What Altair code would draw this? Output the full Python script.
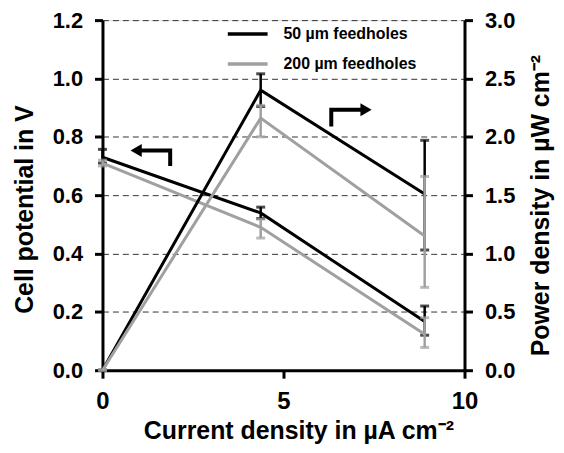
import altair as alt
import pandas as pd

# Data
current = [0, 4.37, 8.9]
series_names = ["50 µm feedholes", "200 µm feedholes"]
colors = ["#000000", "#a0a0a0"]

pot_50 = [0.73, 0.539, 0.167]
pot_50_lo = [0.71, 0.52, 0.12]
pot_50_hi = [0.757, 0.559, 0.22]
pot_200 = [0.71, 0.49, 0.123]
pot_200_lo = [0.70, 0.453, 0.078]
pot_200_hi = [0.72, 0.518, 0.18]

pow_50 = [0.0, 2.40, 1.51]
pow_50_lo = [0.0, 2.26, 1.03]
pow_50_hi = [0.0, 2.54, 1.97]
pow_200 = [0.0, 2.16, 1.15]
pow_200_lo = [0.0, 2.00, 0.71]
pow_200_hi = [0.0, 2.27, 1.66]

# arrow annotations (in data units of left axis)
arrow_left_x = [1.87, 1.87, 0.95]
arrow_left_y = [0.70, 0.753, 0.753]
arrow_right_x = [6.32, 6.32, 7.2]
arrow_right_y = [0.835, 0.893, 0.893]

rows = []
for name, p, plo, phi, w, wlo, whi in [
    (series_names[0], pot_50, pot_50_lo, pot_50_hi, pow_50, pow_50_lo, pow_50_hi),
    (series_names[1], pot_200, pot_200_lo, pot_200_hi, pow_200, pow_200_lo, pow_200_hi),
]:
    for i, x in enumerate(current):
        rows.append(dict(x=x, series=name, pot=p[i], potlo=plo[i], pothi=phi[i],
                         pw=w[i], pwlo=wlo[i], pwhi=whi[i]))
df = pd.DataFrame(rows)

FONT = "Liberation Sans"
YLBL = 22
XLBL = 24
TTL = 25

xenc = alt.X("x:Q", scale=alt.Scale(domain=[0, 10]),
             axis=alt.Axis(values=[0, 5, 10], title="Current density in µA cm⁻²",
                           grid=False, labelFontSize=XLBL, titleFontSize=TTL,
                           labelFontWeight="bold", titleFontWeight="bold",
                           labelFlush=False, labelPadding=12,
                           titleX=197, titleY=69, titleBaseline="alphabetic",
                           domainWidth=3, domainColor="black", tickWidth=3,
                           tickColor="black", tickSize=8, labelColor="black",
                           titleColor="black"))

color = alt.Color("series:N", scale=alt.Scale(domain=series_names, range=colors),
                  legend=alt.Legend(title=None, orient="none", legendX=124, legendY=-8,
                                    symbolType="stroke", symbolSize=1600,
                                    symbolStrokeWidth=3.5, labelFontSize=16,
                                    labelFontWeight="bold", labelFont=FONT,
                                    labelColor="black", rowPadding=-15,
                                    labelOffset=14))

left_axis = alt.Axis(values=[0, 0.2, 0.4, 0.6, 0.8, 1.0, 1.2], format=".1f",
                     title="Cell potential in V", grid=True, gridDash=[6, 4],
                     gridColor="#333333", gridWidth=1,
                     labelFontSize=YLBL, titleFontSize=TTL, labelFontWeight="bold",
                     titleFontWeight="bold", labelPadding=12,
                     titleX=-78, titleY=190, titleAngle=270, titleBaseline="middle",
                     domainWidth=3, domainColor="black", tickWidth=3, tickColor="black",
                     tickSize=8, labelColor="black", titleColor="black")
right_axis = alt.Axis(values=[0, 0.5, 1.0, 1.5, 2.0, 2.5, 3.0], format=".1f",
                      title="Power density in µW cm⁻²", orient="right", grid=False,
                      titleAngle=270, titleX=76, titleY=186, titleBaseline="middle",
                      labelFontSize=YLBL, titleFontSize=TTL, labelFontWeight="bold",
                      titleFontWeight="bold", labelPadding=12,
                      domainWidth=3, domainColor="black", tickWidth=3, tickColor="black",
                      tickSize=8, labelColor="black", titleColor="black")

yl_scale = alt.Scale(domain=[0, 1.2])
yr_scale = alt.Scale(domain=[0, 3.0])

nolegend = alt.Color("series:N", legend=None)
left_layers = []
right_layers = []
for name in series_names:
    sub = alt.Chart(df).transform_filter(alt.datum.series == name)
    left_layers.append(sub.mark_line(strokeWidth=3).encode(
        x=xenc, y=alt.Y("pot:Q", scale=yl_scale, axis=left_axis), color=color))
    left_layers.append(sub.mark_rule(strokeWidth=2.5).encode(
        x="x:Q", y="potlo:Q", y2="pothi:Q", color=nolegend))
    left_layers.append(sub.mark_tick(orient="horizontal", size=9, thickness=3).encode(
        x="x:Q", y="potlo:Q", color=nolegend))
    left_layers.append(sub.mark_tick(orient="horizontal", size=9, thickness=3).encode(
        x="x:Q", y="pothi:Q", color=nolegend))

    right_layers.append(sub.mark_line(strokeWidth=3).encode(
        x="x:Q", y=alt.Y("pw:Q", scale=yr_scale, axis=right_axis), color=nolegend))
    right_layers.append(sub.mark_rule(strokeWidth=2.5).encode(
        x="x:Q", y="pwlo:Q", y2="pwhi:Q", color=nolegend))
    right_layers.append(sub.mark_tick(orient="horizontal", size=9, thickness=3).encode(
        x="x:Q", y="pwlo:Q", color=nolegend))
    right_layers.append(sub.mark_tick(orient="horizontal", size=9, thickness=3).encode(
        x="x:Q", y="pwhi:Q", color=nolegend))

arrows = pd.DataFrame({
    "ax": arrow_left_x + arrow_right_x,
    "ay": arrow_left_y + arrow_right_y,
    "grp": ["L"] * 3 + ["R"] * 3,
    "ord": [0, 1, 2, 0, 1, 2],
})
heads = pd.DataFrame({
    "hx": [0.93, 7.28],
    "hy": [0.753, 0.893],
    "shape": ["triangle-left", "triangle-right"],
})
arrow_lines = alt.Chart(arrows).mark_line(color="black", strokeWidth=4,
                                          strokeJoin="miter", strokeCap="butt").encode(
    x="ax:Q", y="ay:Q", detail="grp:N", order="ord:Q")
arrow_heads = alt.Chart(heads).mark_point(filled=True, color="black", opacity=1,
                                          size=170, strokeWidth=0).encode(
    x="hx:Q", y="hy:Q",
    shape=alt.Shape("shape:N", scale=None, legend=None))

left = alt.layer(*left_layers, arrow_lines, arrow_heads)
right = alt.layer(*right_layers)

chart = alt.layer(left, right).resolve_scale(y="independent").properties(
    width=364, height=352,
    autosize=alt.AutoSizeParams(type="none"),
    padding={"left": 95, "top": 11, "right": 92, "bottom": 74},
).configure_view(stroke=None).configure(font=FONT).configure_axis(
    labelFont=FONT, titleFont=FONT)

chart.save("out.html", embed_options={"renderer": "svg", "actions": False})
